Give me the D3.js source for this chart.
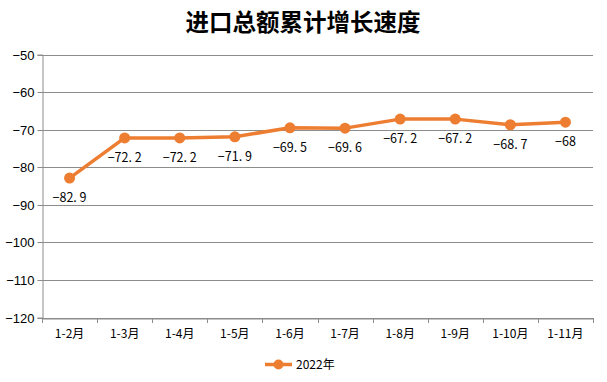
<!DOCTYPE html>
<html><head><meta charset="utf-8">
<script src="https://cdn.jsdelivr.net/npm/d3@7"></script>
<style>body{margin:0;background:#fff;}svg{display:block;}</style>
</head><body>
<svg id="c" width="607" height="382"></svg>
<script>
const title = "进口总额累计增长速度";
const categories = ["1-2月","1-3月","1-4月","1-5月","1-6月","1-7月","1-8月","1-9月","1-10月","1-11月"];
const values2022 = [-82.9,-72.2,-72.2,-71.9,-69.5,-69.6,-67.2,-67.2,-68.7,-68];
const valueLabels = ["−82. 9","−72. 2","−72. 2","−71. 9","−69. 5","−69. 6","−67. 2","−67. 2","−68. 7","−68"];
const yTicks = [-50,-60,-70,-80,-90,-100,-110,-120];
const seriesName = "2022年";

(function(){
const svg = d3.select("#c");
const pL = 42, pR = 593, pT = 54.5, pB = 317.5;
const color = "#ED7D31";
const grid = "#8c8c8c";

const x = d3.scaleBand().domain(categories).range([pL, pR]);
const y = d3.scaleLinear().domain([-120,-50]).range([pB, pT]);

svg.append("text").attr("x", 303).attr("y", 31).attr("text-anchor","middle")
  .style("font-family","'Noto Sans CJK SC'").style("font-weight","bold").style("font-size","23.5px")
  .attr("fill","#000").text(title);

svg.append("g").selectAll("line").data(yTicks).join("line")
  .attr("x1", pL).attr("x2", pR)
  .attr("y1", d => Math.round(y(d))+0.5).attr("y2", d => Math.round(y(d))+0.5)
  .attr("stroke", grid).attr("stroke-width",1);

const yAxis = svg.append("g").attr("transform",`translate(${pL+0.5},0)`)
  .call(d3.axisLeft(y).tickValues(yTicks).tickSize(5).tickPadding(3).tickFormat(d => "−" + Math.abs(d)));
yAxis.select(".domain").attr("stroke", grid);
yAxis.selectAll(".tick line").attr("stroke", grid);
yAxis.selectAll(".tick text").style("font-family","'Liberation Sans', Arial").style("font-size","13px").attr("fill","#000");
yAxis.selectAll(".tick").attr("transform", d => `translate(0,${Math.round(y(d))+0.5})`);

const xAxis = svg.append("g").attr("transform",`translate(0,${Math.round(pB)+0.5})`)
  .call(d3.axisBottom(x).tickSize(0).tickPadding(11));
xAxis.select(".domain").attr("stroke", grid);
xAxis.selectAll(".tick text").style("font-family","'Noto Sans CJK SC'").style("font-size","12px").attr("fill","#000");
const bounds = categories.map(c => x(c)).concat([pR]);
svg.append("g").selectAll("line").data(bounds).join("line")
  .attr("x1", d => Math.round(d)+0.5).attr("x2", d => Math.round(d)+0.5)
  .attr("y1", Math.round(pB)).attr("y2", Math.round(pB)+5)
  .attr("stroke", grid);

const cx = d => x(d) + x.bandwidth()/2;
const pts = categories.map((c,i) => [cx(c), y(values2022[i])]);

svg.append("path").attr("d", d3.line()(pts)).attr("fill","none")
  .attr("stroke", color).attr("stroke-width", 3.5).attr("stroke-linejoin","round");
svg.append("g").selectAll("circle").data(pts).join("circle")
  .attr("cx", d => d[0]).attr("cy", d => d[1]).attr("r", 5.5).attr("fill", color);

svg.append("g").selectAll("text").data(pts).join("text")
  .attr("x", d => d[0]).attr("y", d => d[1] + 24).attr("text-anchor","middle")
  .style("font-family","'Noto Sans CJK SC'").style("font-size","12.5px").attr("fill","#000")
  .text((d,i) => valueLabels[i]);

const lg = svg.append("g");
lg.append("line").attr("x1",265).attr("x2",292).attr("y1",364.5).attr("y2",364.5)
  .attr("stroke",color).attr("stroke-width",3.5);
lg.append("circle").attr("cx",278.5).attr("cy",364.5).attr("r",5).attr("fill",color);
lg.append("text").attr("x",296).attr("y",369).style("font-family","'Noto Sans CJK SC'")
  .style("font-size","12px").attr("fill","#000").text(seriesName);
})();
</script>
</body></html>
